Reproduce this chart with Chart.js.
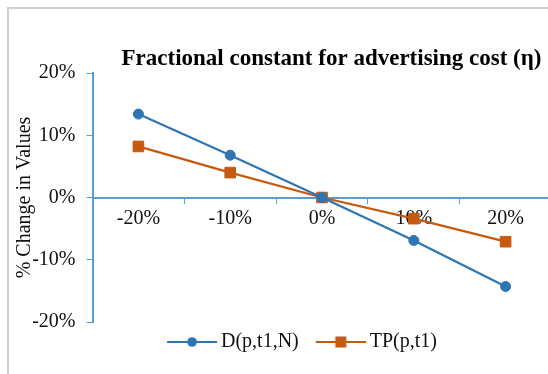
<!DOCTYPE html>
<html>
<head>
<meta charset="utf-8">
<script src="https://cdn.jsdelivr.net/npm/chart.js@4/dist/chart.umd.min.js"></script>
<style>
  html, body { margin: 0; padding: 0; overflow: hidden; background: #fff; width: 548px; height: 374px; }
  #wrap { position: absolute; left: 0; top: 0; width: 560px; height: 374px; }
</style>
</head>
<body>
<div id="wrap"><canvas id="chart" width="560" height="374"></canvas></div>
<script>
// Sensitivity of the two outputs to the advertising-cost constant
const categories = ['-20%', '-10%', '0%', '10%', '20%'];
const demandChange = [13.4, 6.8, 0, -6.9, -14.3];   // D(p,t1,N), % change
const profitChange = [8.2, 4.0, 0, -3.4, -7.1];     // TP(p,t1), % change
const yTickValues = [-20, -10, 0, 10, 20];
const seriesNames = ['D(p,t1,N)', 'TP(p,t1)'];
const chartTitle = 'Fractional constant for advertising cost (η)';
const yAxisTitle = '% Change in Values';

const BLUE = '#2E75B6';
const ORANGE = '#C55A11';
const AXIS = '#5B9BD5';
const SERIF = '"Liberation Serif", "Times New Roman", serif';
const TEXT = '#111';

// Legend symbol: a short line with the series marker in its middle
function legendIcon(color, shape) {
  const c = document.createElement('canvas');
  c.width = 63; c.height = 14;
  const g = c.getContext('2d');
  g.strokeStyle = color;
  g.lineWidth = 2;
  g.beginPath(); g.moveTo(13, 7); g.lineTo(63, 7); g.stroke();
  g.fillStyle = color;
  if (shape === 'circle') {
    g.beginPath(); g.arc(38, 7, 4.8, 0, Math.PI * 2); g.fill();
  } else {
    g.fillRect(32.5, 1.5, 11, 11);
  }
  return c;
}
const legendIcons = [legendIcon(BLUE, 'circle'), legendIcon(ORANGE, 'rect')];

// Chart border, main title, and legend row placed under the plot
const decorations = {
  id: 'decorations',
  afterLayout(chart) {
    chart.legend.left = 44;
  },
  beforeDraw(chart) {
    const ctx = chart.ctx;
    ctx.save();
    ctx.fillStyle = '#fff';
    ctx.fillRect(0, 0, chart.width, chart.height);
    ctx.strokeStyle = '#D0D0D0';
    ctx.lineWidth = 2;
    ctx.beginPath();
    ctx.moveTo(8, chart.height);
    ctx.lineTo(8, 8);
    ctx.lineTo(chart.width, 8);
    ctx.stroke();
    ctx.restore();
  },
  afterDraw(chart) {
    const ctx = chart.ctx;
    ctx.save();
    ctx.fillStyle = '#000';
    ctx.font = 'bold 23px ' + SERIF;
    ctx.textAlign = 'center';
    ctx.textBaseline = 'alphabetic';
    ctx.fillText(chartTitle, 331.5, 65);
    ctx.restore();
  }
};

new Chart(document.getElementById('chart'), {
  type: 'line',
  data: {
    labels: categories,
    datasets: [
      {
        label: seriesNames[0],
        data: demandChange,
        borderColor: BLUE,
        backgroundColor: BLUE,
        borderWidth: 2.25,
        pointStyle: 'circle',
        pointRadius: 5,
        pointBorderWidth: 1,
        pointBorderColor: BLUE,
        pointBackgroundColor: BLUE,
        tension: 0
      },
      {
        label: seriesNames[1],
        data: profitChange,
        borderColor: ORANGE,
        backgroundColor: ORANGE,
        borderWidth: 2.25,
        pointStyle: 'rect',
        pointRadius: 7.5,
        pointBorderWidth: 1,
        pointBorderColor: ORANGE,
        pointBackgroundColor: ORANGE,
        tension: 0
      }
    ]
  },
  options: {
    responsive: false,
    animation: false,
    devicePixelRatio: 1,
    layout: { padding: { left: 10, right: 7, top: 73, bottom: 12 } },
    plugins: {
      title: { display: false },
      tooltip: { enabled: false },
      legend: {
        position: 'bottom',
        labels: {
          usePointStyle: true,
          pointStyleWidth: 51,
          padding: 10,
          color: TEXT,
          font: { family: SERIF, size: 20 },
          generateLabels(chart) {
            const items = Chart.defaults.plugins.legend.labels.generateLabels(chart);
            items.forEach((item, i) => { item.pointStyle = legendIcons[i]; });
            return items;
          }
        }
      }
    },
    scales: {
      x: {
        type: 'category',
        position: { y: 0 },
        offset: true,
        grid: {
          offset: true,
          drawOnChartArea: false,
          drawTicks: true,
          tickLength: 5,
          color: AXIS,
          lineWidth: 1
        },
        border: { color: AXIS, width: 2 },
        ticks: {
          color: TEXT,
          font: { family: SERIF, size: 20 },
          padding: 4,
          maxRotation: 0,
          autoSkip: false
        },
        afterFit(scale) { scale.height = 4; }
      },
      y: {
        min: -20,
        max: 20,
        afterBuildTicks(scale) { scale.ticks = yTickValues.map(v => ({ value: v })); },
        title: {
          display: true,
          text: yAxisTitle,
          color: TEXT,
          font: { family: SERIF, size: 20 },
          padding: { top: 3, bottom: 0 }
        },
        grid: {
          drawOnChartArea: false,
          drawTicks: true,
          tickLength: 6,
          color: AXIS,
          lineWidth: 1
        },
        border: { color: AXIS, width: 2 },
        ticks: {
          color: TEXT,
          font: { family: SERIF, size: 20 },
          padding: 11,
          callback: v => v + '%'
        },
        afterFit(scale) { scale.width = 82.5; }
      }
    }
  },
  plugins: [decorations]
});
</script>
</body>
</html>
